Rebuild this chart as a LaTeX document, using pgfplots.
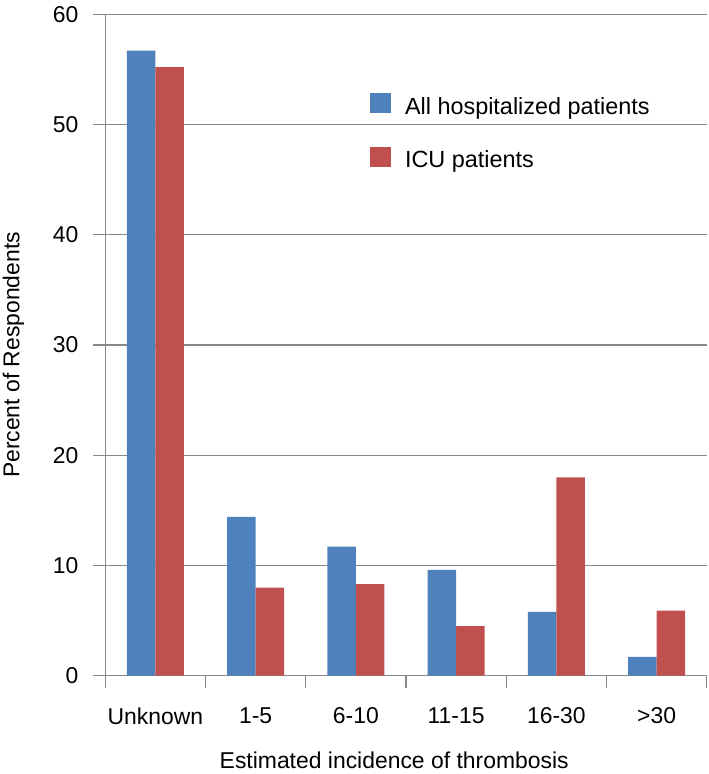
\documentclass[border=0pt]{standalone}
\usepackage{pgfplots}
\pgfplotsset{compat=1.18}
\usepackage{fontspec}
\setmainfont{Liberation Sans}
\definecolor{barblue}{HTML}{4F81BD}
\definecolor{barred}{HTML}{C0504D}
\definecolor{axgray}{HTML}{888888}
\pgfplotsset{sqlegend/.style={legend image code/.code={\fill[##1,draw=none] (0bp,-7bp) rectangle (21.3bp,13.6bp);}}}
\begin{document}
\begin{tikzpicture}
\begin{axis}[
  scale only axis, width=601.4bp, height=661.4bp,
  xmin=-0.5, xmax=5.5, ymin=0, ymax=60,
  ytick={0,10,...,60},
  xtick={0,...,5},
  xticklabels={Unknown,1-5,6-10,11-15,16-30,>30},
  minor xtick={-0.5,0.5,...,5.5},
  axis lines*=left,
  axis line style={axgray, line width=1.4bp},
  ymajorgrids, grid style={axgray, line width=1.4bp},
  tick align=outside, major tick length=12bp, minor tick length=12bp,
  tick style={axgray, line width=1.4bp},
  major x tick style={draw=none},
  ybar=0pt, bar width=28.5bp,
  font=\fontsize{23}{27}\selectfont,
  tick label style={font=\fontsize{23}{27}\selectfont},
  /pgf/number format/assume math mode=true,
  yticklabel style={xshift=-11.5bp},
  xticklabel style={anchor=north, yshift=-16.5bp},
  xlabel={Estimated incidence of thrombosis},
  ylabel={Percent of Respondents},
  every axis x label/.style={at={(rel axis cs:0.4804,0)}, anchor=base, yshift=-92.3bp},
  every axis y label/.style={at={(rel axis cs:0,0.4849)}, xshift=-86bp, rotate=90, anchor=base},
  legend style={at={(rel axis cs:0.4402,0.8815)}, anchor=north west, draw=none, fill=none,
    inner sep=0pt, outer sep=0pt, nodes={inner sep=0pt}, column sep=13.7bp, row sep=31.1bp,
    font=\fontsize{23.5}{27}\selectfont},
  legend cell align=left,
]
\addplot[fill=barblue, draw=none, sqlegend] coordinates {(0,56.7) (1,14.4) (2,11.7) (3,9.6) (4,5.8) (5,1.7)};
\addplot[fill=barred, draw=none, sqlegend] coordinates {(0,55.2) (1,8.0) (2,8.3) (3,4.5) (4,18.0) (5,5.9)};
\legend{All hospitalized patients, ICU patients}
\coordinate (ll) at (rel axis cs:0,0);
\coordinate (ur) at (rel axis cs:1,1);
\end{axis}
\pgfresetboundingbox
\path ([shift={(-105.3bp,-98.3bp)}]ll) rectangle ([shift={(2.3bp,14.3bp)}]ur);
\end{tikzpicture}
\end{document}
